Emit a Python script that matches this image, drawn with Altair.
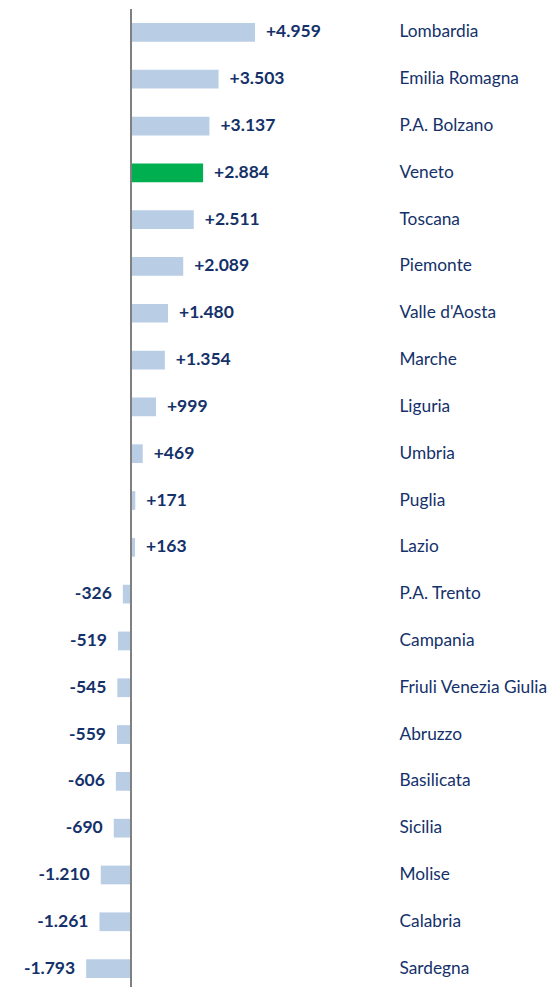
import altair as alt
import pandas as pd

regions = ["Lombardia", "Emilia Romagna", "P.A. Bolzano", "Veneto", "Toscana",
           "Piemonte", "Valle d'Aosta", "Marche", "Liguria", "Umbria", "Puglia",
           "Lazio", "P.A. Trento", "Campania", "Friuli Venezia Giulia", "Abruzzo",
           "Basilicata", "Sicilia", "Molise", "Calabria", "Sardegna"]
values = [4959, 3503, 3137, 2884, 2511, 2089, 1480, 1354, 999, 469, 171,
          163, -326, -519, -545, -559, -606, -690, -1210, -1261, -1793]
highlight = "Veneto"


def fmt(v):
    s = f"{abs(v):,}".replace(",", ".")
    return ("+" if v > 0 else "-") + s


df = pd.DataFrame({
    "region": regions,
    "value": values,
    "label": [fmt(v) for v in values],
    "hl": [r == highlight for r in regions],
})

NAVY = "#14316a"
FONT = "Lato"
DOMAIN = [-4920, 10400]

y = alt.Y("region:N", sort=regions,
          scale=alt.Scale(paddingInner=0.6, paddingOuter=0.3),
          axis=alt.Axis(orient="right", title=None, domain=False, ticks=False,
                        labelPadding=8, labelFont=FONT, labelFontSize=17.3,
                        labelColor=NAVY, labelAlign="left", grid=False,
                        labelLimit=400))
x = alt.X("value:Q", scale=alt.Scale(domain=DOMAIN, nice=False, zero=False), axis=None)

base = alt.Chart(df)

bars = base.mark_bar().encode(
    x=x, x2=alt.datum(0), y=y,
    color=alt.condition("datum.hl", alt.value("#00B050"), alt.value("#B9CDE5")),
)

pos = base.transform_filter("datum.value > 0").mark_text(
    align="left", baseline="middle", dx=11, font=FONT, fontSize=17.5,
    fontWeight="bold", color=NAVY
).encode(x=x, y=y, text="label:N")

neg = base.transform_filter("datum.value < 0").mark_text(
    align="right", baseline="middle", dx=-11, font=FONT, fontSize=17.5,
    fontWeight="bold", color=NAVY
).encode(x=x, y=y, text="label:N")

zero = alt.Chart(pd.DataFrame({"z": [0]})).mark_rule(
    color="#808080", strokeWidth=2
).encode(x=alt.X("z:Q", scale=alt.Scale(domain=DOMAIN, nice=False, zero=False), axis=None))

chart = alt.layer(bars, zero, pos, neg).properties(
    width=383, height=983,
    padding={"left": 0, "top": 1, "right": 158, "bottom": 0},
    autosize=alt.AutoSizeParams(type="none"),
).configure_view(stroke=None)

chart.save("out.html", embed_options={"renderer": "svg", "actions": False})
